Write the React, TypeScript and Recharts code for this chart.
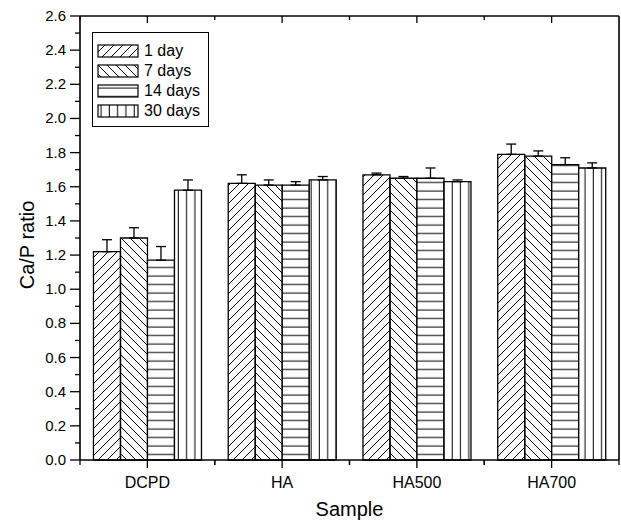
import React from "react";
import {
  BarChart,
  Bar,
  XAxis,
  YAxis,
  ErrorBar,
  Legend,
} from "recharts";

const samples = ["DCPD", "HA", "HA500", "HA700"];
const day1 = [1.22, 1.62, 1.67, 1.79];
const day1Err = [0.07, 0.05, 0.01, 0.06];
const day7 = [1.3, 1.61, 1.65, 1.78];
const day7Err = [0.06, 0.03, 0.01, 0.03];
const day14 = [1.17, 1.61, 1.65, 1.73];
const day14Err = [0.08, 0.02, 0.06, 0.04];
const day30 = [1.58, 1.64, 1.63, 1.71];
const day30Err = [0.06, 0.02, 0.01, 0.03];
const seriesNames = ["1 day", "7 days", "14 days", "30 days"];
const yTicks = [
  0, 0.1, 0.2, 0.3, 0.4, 0.5, 0.6, 0.7, 0.8, 0.9, 1.0, 1.1, 1.2, 1.3, 1.4,
  1.5, 1.6, 1.7, 1.8, 1.9, 2.0, 2.1, 2.2, 2.3, 2.4, 2.5, 2.6,
];

const data = samples.map((sample, i) => ({
  sample,
  d1: day1[i],
  e1: [0, day1Err[i]],
  d7: day7[i],
  e7: [0, day7Err[i]],
  d14: day14[i],
  e14: [0, day14Err[i]],
  d30: day30[i],
  e30: [0, day30Err[i]],
}));

const W = 621;
const H = 522;
const LEFT = 80;
const RIGHT = 1;
const TOP = 15;
const BOTTOM_AXIS = 62;
const band = (W - LEFT - RIGHT - 1) / samples.length;

const font = "'Liberation Sans', Arial, sans-serif";
const patternIds = ["p1", "p7", "p14", "p30"];
const keys = ["d1", "d7", "d14", "d30"];
const errKeys = ["e1", "e7", "e14", "e30"];

const isMajor = (v: number) => Math.round(v * 10) % 2 === 0;

const LeftTick = (props: any) => {
  const { x, y, payload } = props;
  const major = isMajor(payload.value);
  return (
    <g>
      <line x1={x} x2={x - (major ? 10 : 5)} y1={y} y2={y} stroke="#000" strokeWidth={1.3} />
      {major && (
        <text x={x - 14} y={y + 5} textAnchor="end" fontSize={15} fontFamily={font} fill="#000">
          {payload.value.toFixed(1)}
        </text>
      )}
    </g>
  );
};

const RightTick = (props: any) => {
  const { x, y, payload } = props;
  const major = isMajor(payload.value);
  return <line x1={x} x2={x - (major ? 7 : 4)} y1={y} y2={y} stroke="#000" strokeWidth={1.3} />;
};

const BottomTick = (props: any) => {
  const { x, y, payload } = props;
  return (
    <g>
      <line x1={x} x2={x} y1={y} y2={y + 8} stroke="#000" strokeWidth={1.3} />
      <line x1={x - band / 2} x2={x - band / 2} y1={y} y2={y + 5} stroke="#000" strokeWidth={1.3} />
      <line x1={x + band / 2} x2={x + band / 2} y1={y} y2={y + 5} stroke="#000" strokeWidth={1.3} />
      <text x={x} y={y + 28} textAnchor="middle" fontSize={16} fontFamily={font} fill="#000">
        {payload.value}
      </text>
    </g>
  );
};

const TopTick = (props: any) => {
  const { x, y } = props;
  return (
    <g>
      <line x1={x} x2={x} y1={y} y2={y + 7} stroke="#000" strokeWidth={1.3} />
      <line x1={x - band / 2} x2={x - band / 2} y1={y} y2={y + 4} stroke="#000" strokeWidth={1.3} />
    </g>
  );
};

const Patterns = () => (
  <defs>
    <pattern id="p1" patternUnits="userSpaceOnUse" width={9} height={9}>
      <path d="M-1,1 l2,-2 M0,9 l9,-9 M8,10 l2,-2" stroke="#000" strokeWidth={1} />
    </pattern>
    <pattern id="p7" patternUnits="userSpaceOnUse" width={9} height={9}>
      <path d="M0,0 l9,9 M-1,8 l2,2 M8,-1 l2,2" stroke="#000" strokeWidth={1} />
    </pattern>
    <pattern id="p14" patternUnits="userSpaceOnUse" width={9} height={8.5}>
      <rect width={9} height={8.5} fill="#fff" />
      <line x1={0} x2={9} y1={4} y2={4} stroke="#000" strokeWidth={1} />
    </pattern>
    <pattern id="p30" patternUnits="userSpaceOnUse" width={8.3} height={9}>
      <rect width={8.3} height={9} fill="#fff" />
      <line x1={4} x2={4} y1={0} y2={9} stroke="#000" strokeWidth={1} />
    </pattern>
  </defs>
);

const LegendBox = () => (
  <div
    style={{
      border: "1.3px solid #000",
      boxSizing: "border-box",
      width: 117,
      height: 95,
      paddingTop: 8,
      paddingLeft: 4,
      background: "#fff",
      fontFamily: font,
    }}
  >
    {seriesNames.map((name, i) => (
      <div key={name} style={{ display: "flex", alignItems: "center", height: 20 }}>
        <svg width={42} height={14} style={{ display: "block" }}>
          <rect x={1} y={1} width={40} height={12} fill={`url(#${patternIds[i]})`} stroke="#000" strokeWidth={1.2} />
        </svg>
        <span style={{ fontSize: 16, marginLeft: 5, color: "#000", lineHeight: "20px" }}>{name}</span>
      </div>
    ))}
  </div>
);

export default function App() {
  return (
    <div style={{ position: "absolute", left: 0, top: 0, width: W, height: H, background: "#fff" }}>
      <BarChart
        width={W}
        height={H}
        data={data}
        margin={{ top: TOP, right: RIGHT, bottom: 0, left: 0 }}
        barCategoryGap="10%"
        barGap={0}
      >
        <Patterns />
        <XAxis
          dataKey="sample"
          xAxisId="bottom"
          height={BOTTOM_AXIS}
          tickSize={0}
          tickMargin={0}
          tickLine={false}
          axisLine={{ stroke: "#000", strokeWidth: 1.6 }}
          tick={BottomTick}
          interval={0}
          label={{
            content: (p: any) => (
              <text
                x={p.viewBox.x + p.viewBox.width / 2}
                y={p.viewBox.y + 56}
                textAnchor="middle"
                fontSize={20}
                fontFamily={font}
                fill="#000"
              >
                Sample
              </text>
            ),
          }}
        />
        <XAxis
          dataKey="sample"
          xAxisId="top"
          orientation="top"
          height={1}
          tickSize={0}
          tickMargin={0}
          tickLine={false}
          axisLine={{ stroke: "#000", strokeWidth: 1.6 }}
          tick={TopTick}
          interval={0}
        />
        <YAxis
          yAxisId="left"
          width={LEFT}
          domain={[0, 2.6]}
          ticks={yTicks}
          interval={0}
          tickSize={0}
          tickMargin={0}
          tickLine={false}
          axisLine={{ stroke: "#000", strokeWidth: 1.6 }}
          tick={LeftTick}
          label={{
            content: () => {
              const cx = 34;
              const cy = 245;
              return (
                <text
                  x={cx}
                  y={cy}
                  transform={`rotate(-90 ${cx} ${cy})`}
                  textAnchor="middle"
                  fontSize={20}
                  fontFamily={font}
                  fill="#000"
                >
                  Ca/P ratio
                </text>
              );
            },
          }}
        />
        <YAxis
          yAxisId="right"
          orientation="right"
          width={1}
          domain={[0, 2.6]}
          ticks={yTicks}
          interval={0}
          tickSize={0}
          tickMargin={0}
          tickLine={false}
          axisLine={{ stroke: "#000", strokeWidth: 1.6 }}
          tick={RightTick}
        />
        {keys.map((k, i) => (
          <Bar
            key={k}
            dataKey={k}
            name={seriesNames[i]}
            xAxisId="bottom"
            yAxisId="left"
            fill={`url(#${patternIds[i]})`}
            stroke="#000"
            strokeWidth={1.3}
            isAnimationActive={false}
          >
            <ErrorBar dataKey={errKeys[i]} width={5} stroke="#000" strokeWidth={1.3} direction="y" />
          </Bar>
        ))}
        <Legend
          layout="horizontal"
          align="center"
          verticalAlign="middle"
          width={117}
          height={95}
          wrapperStyle={{ left: 92, top: 32, width: 117, height: 95 }}
          content={() => <LegendBox />}
        />
      </BarChart>
    </div>
  );
}
